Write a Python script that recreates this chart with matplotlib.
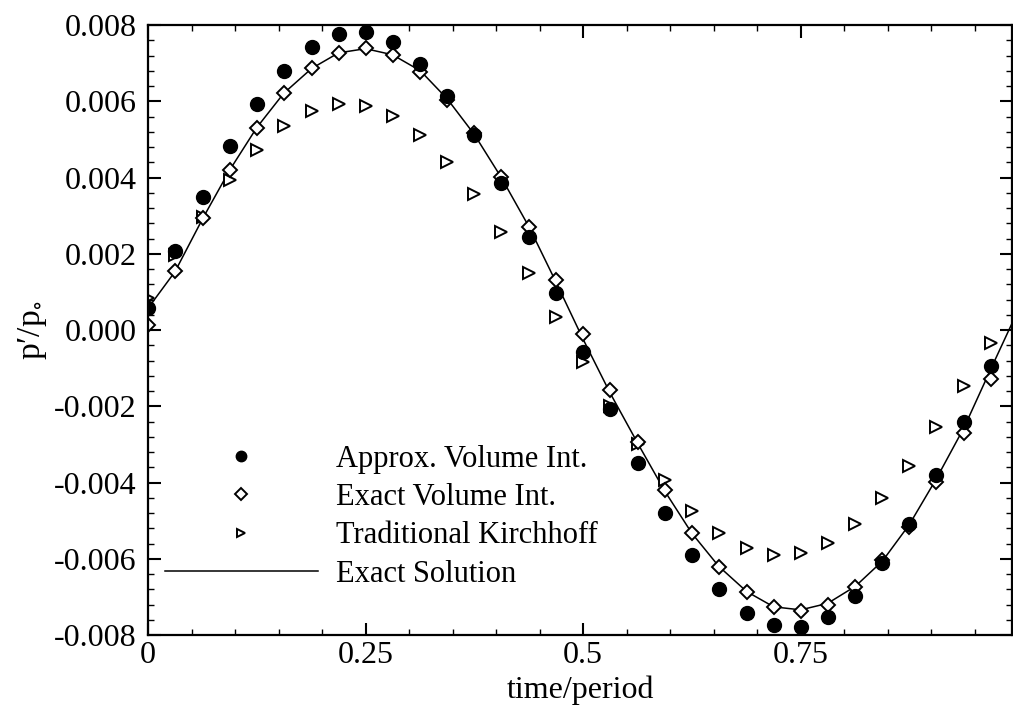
import matplotlib
matplotlib.use("Agg")
import matplotlib.pyplot as plt
from matplotlib.ticker import MultipleLocator

plt.rcParams["font.family"] = ["Liberation Serif", "DejaVu Serif"]
plt.rcParams["mathtext.fontset"] = "stix"

# sample times (time/period)
time = [0.000, 0.031, 0.063, 0.094, 0.125, 0.156, 0.188, 0.219,
        0.250, 0.281, 0.313, 0.344, 0.375, 0.406, 0.438, 0.469,
        0.500, 0.531, 0.563, 0.594, 0.625, 0.656, 0.688, 0.719,
        0.750, 0.781, 0.813, 0.844, 0.875, 0.906, 0.938, 0.969]

approx_volume = [0.00057, 0.00208, 0.00350, 0.00483, 0.00592, 0.00680, 0.00742, 0.00777,
                 0.00781, 0.00755, 0.00699, 0.00615, 0.00511, 0.00385, 0.00245, 0.00096,
                 -0.00057, -0.00207, -0.00350, -0.00479, -0.00590, -0.00678, -0.00741, -0.00774,
                 -0.00778, -0.00752, -0.00698, -0.00610, -0.00509, -0.00380, -0.00240, -0.00094]

exact_volume = [0.00013, 0.00156, 0.00293, 0.00420, 0.00531, 0.00621, 0.00686, 0.00727,
                0.00739, 0.00721, 0.00678, 0.00603, 0.00516, 0.00402, 0.00271, 0.00131,
                -0.00011, -0.00156, -0.00293, -0.00420, -0.00532, -0.00621, -0.00686, -0.00726,
                -0.00736, -0.00721, -0.00673, -0.00604, -0.00516, -0.00398, -0.00269, -0.00129]

kirchhoff = [0.00083, 0.00197, 0.00297, 0.00393, 0.00472, 0.00535, 0.00575, 0.00593,
             0.00588, 0.00561, 0.00512, 0.00442, 0.00357, 0.00258, 0.00149, 0.00035,
             -0.00083, -0.00200, -0.00299, -0.00393, -0.00474, -0.00533, -0.00573, -0.00590,
             -0.00586, -0.00558, -0.00509, -0.00441, -0.00356, -0.00255, -0.00147, -0.00035]

line_time = time + [0.993]
exact_solution = [0.00057, 0.00153, 0.00293, 0.00420, 0.00531, 0.00621, 0.00686, 0.00727,
                  0.00738, 0.00722, 0.00680, 0.00606, 0.00513, 0.00400, 0.00270, 0.00125,
                  -0.00024, -0.00165, -0.00298, -0.00423, -0.00533, -0.00620, -0.00686, -0.00726,
                  -0.00734, -0.00717, -0.00672, -0.00606, -0.00510, -0.00390, -0.00255, -0.00100,
                  0.00018]

xticks = [0, 0.25, 0.5, 0.75]
xticklabels = ["0", "0.25", "0.5", "0.75"]
yticks = [-0.008, -0.006, -0.004, -0.002, 0.0, 0.002, 0.004, 0.006, 0.008]
yticklabels = ["-0.008", "-0.006", "-0.004", "-0.002", "0.000",
               "0.002", "0.004", "0.006", "0.008"]

fig = plt.figure(figsize=(10.13, 7.07), dpi=100)
ax = fig.add_axes([0.1461, 0.1018, 0.853, 0.8628])

line, = ax.plot(line_time, exact_solution, color="black", lw=1.1,
                solid_joinstyle="round", label="Exact Solution")
tri, = ax.plot(time, kirchhoff, ">", ls="none", mfc="white", mec="black",
               ms=8, mew=1.4, label="Traditional Kirchhoff")
dia, = ax.plot(time, exact_volume, "D", ls="none", mfc="white", mec="black",
               ms=7.5, mew=1.4, label="Exact Volume Int.")
dot, = ax.plot(time, approx_volume, "o", ls="none", color="black",
               ms=10, label="Approx. Volume Int.")

ax.set_xlim(0, 0.993)
ax.set_ylim(-0.008, 0.008)
ax.set_xticks(xticks)
ax.set_xticklabels(xticklabels)
ax.set_yticks(yticks)
ax.set_yticklabels(yticklabels)
ax.xaxis.set_minor_locator(MultipleLocator(0.05))
ax.yaxis.set_minor_locator(MultipleLocator(0.0004))

ax.tick_params(which="both", direction="in", top=True, right=True, labelsize=23)
ax.tick_params(which="major", length=9, width=1.5)
ax.tick_params(which="minor", length=4.5, width=1)
ax.tick_params(axis="x", pad=4)
ax.tick_params(axis="y", pad=8)
for s in ax.spines.values():
    s.set_linewidth(1.6)

ax.set_xlabel("time/period", fontsize=23, labelpad=4)
ax.set_ylabel("p\u2032/p$_{\\circ}$", fontsize=24, labelpad=4)

ax.legend(handles=[dot, dia, tri, line], loc="upper left",
          bbox_to_anchor=(0.0197, 0.3115), frameon=False, fontsize=22,
          handlelength=5.0, handletextpad=0.6, labelspacing=0.3,
          markerscale=0.75, borderpad=0, borderaxespad=0)

fig.savefig("out.png", dpi=100)
